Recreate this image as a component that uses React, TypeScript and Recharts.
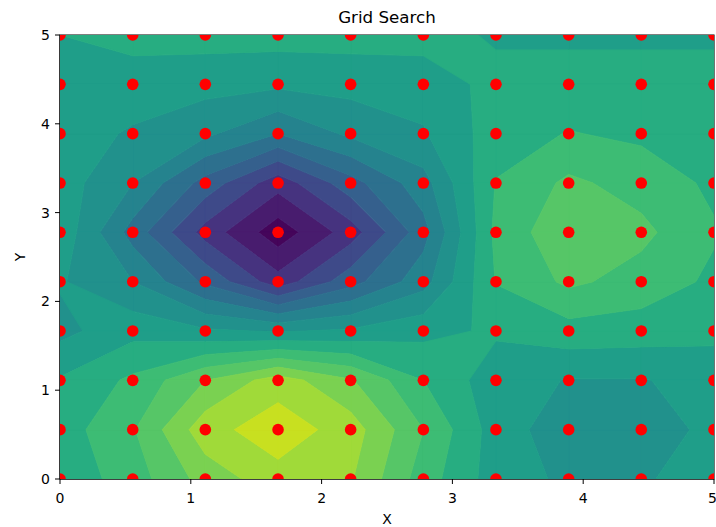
import React from 'react';
import { ScatterChart, Scatter, XAxis, YAxis, ReferenceArea } from 'recharts';

// grid search points (linspace 0..5, 10 steps)
const gridX = [0, 0.556, 1.111, 1.667, 2.222, 2.778, 3.333, 3.889, 4.444, 5];
const gridY = [0, 0.556, 1.111, 1.667, 2.222, 2.778, 3.333, 3.889, 4.444, 5];

// surface value, one row per y (bottom row first),
// expressed in contour-level units
const zRow0 = [9.3, 10.5, 12.4, 13.6, 13.1, 10.5, 8.5, 7.8, 7.9, 8.4];
const zRow1 = [9.5, 10.9, 13.6, 14.6, 13.5, 11.0, 8.5, 7.4, 7.4, 8.3];
const zRow2 = [9.1, 10.2, 12.0, 13.5, 12.1, 10.0, 8.4, 7.95, 7.95, 8.3];
const zRow3 = [7.7, 8.66, 8.15, 7.9, 8.15, 8.7, 9.15, 9.6, 9.5, 9.3];
const zRow4 = [8.1, 7.0, 4.8, 2.4, 4.6, 6.6, 10.05, 11.2, 10.6, 9.8];
const zRow5 = [8.7, 5.6, 2.6, 0.4, 2.5, 5.6, 10.25, 11.8, 11.25, 10.1];
const zRow6 = [8.5, 7.0, 4.6, 2.4, 4.6, 6.6, 10.05, 11.2, 10.6, 9.8];
const zRow7 = [8.4, 7.9, 7.2, 6.0, 7.2, 7.9, 9.5, 10.05, 9.8, 9.5];
const zRow8 = [8.4, 8.45, 8.35, 8.2, 8.35, 8.45, 9.3, 9.3, 9.3, 9.3];
const zRow9 = [9.0, 9.4, 9.4, 9.4, 9.4, 9.4, 8.87, 8.87, 8.87, 8.87];
const zRows = [zRow0, zRow1, zRow2, zRow3, zRow4, zRow5, zRow6, zRow7, zRow8, zRow9];

const levels = [1, 2, 3, 4, 5, 6, 7, 8, 9, 10, 11, 12, 13, 14];
const bandColors = [
  '#45055a', '#481c6e', '#46337f', '#3e4a89', '#35608d', '#2d708e', '#25838e',
  '#21918c', '#1f9e89', '#27ad81', '#3dbc74', '#56c667', '#7ad151', '#a0da39', '#c8e020',
];
const ticks = [0, 1, 2, 3, 4, 5];

type Pt = { x: number; y: number; z: number };

// clip a cell polygon against z >= value (or z <= value), linear along edges
const clipPoly = (poly: Pt[], value: number, above: boolean): Pt[] => {
  const out: Pt[] = [];
  const inside = (p: Pt) => (above ? p.z >= value : p.z <= value);
  for (let k = 0; k < poly.length; k++) {
    const a = poly[k];
    const b = poly[(k + 1) % poly.length];
    const ia = inside(a);
    const ib = inside(b);
    if (ia) out.push(a);
    if (ia !== ib) {
      const t = (value - a.z) / (b.z - a.z);
      out.push({ x: a.x + t * (b.x - a.x), y: a.y + t * (b.y - a.y), z: value });
    }
  }
  return out;
};

const bands = bandColors.map((color, b) => {
  const lo = b === 0 ? -Infinity : levels[b - 1];
  const hi = b === levels.length ? Infinity : levels[b];
  const polys: Pt[][] = [];
  for (let j = 0; j < gridY.length - 1; j++) {
    for (let i = 0; i < gridX.length - 1; i++) {
      let poly: Pt[] = [
        { x: gridX[i], y: gridY[j], z: zRows[j][i] },
        { x: gridX[i + 1], y: gridY[j], z: zRows[j][i + 1] },
        { x: gridX[i + 1], y: gridY[j + 1], z: zRows[j + 1][i + 1] },
        { x: gridX[i], y: gridY[j + 1], z: zRows[j + 1][i] },
      ];
      if (lo > -Infinity) poly = clipPoly(poly, lo, true);
      if (hi < Infinity && poly.length) poly = clipPoly(poly, hi, false);
      if (poly.length >= 3) polys.push(poly);
    }
  }
  return { color, polys, data: polys.flat().map(p => ({ x: p.x, y: p.y })) };
});

const points = gridY.flatMap(y => gridX.map(x => ({ x, y })));

// draws one filled band from the pixel points recharts computed
const bandPath = (polys: Pt[][], color: string) => (props: any) => {
  const pts = props.points as { x: number; y: number }[];
  let k = 0;
  let d = '';
  polys.forEach(poly => {
    const seg = pts.slice(k, k + poly.length);
    k += poly.length;
    d += 'M' + seg.map(p => `${p.x},${p.y}`).join('L') + 'Z';
  });
  return <path d={d} fill={color} stroke={color} strokeWidth={0.9} strokeLinejoin="round" />;
};

const font = 'DejaVu Sans, sans-serif';

const XLabel = (props: any) => {
  const vb = props.viewBox;
  return (
    <text x={vb.x + vb.width / 2} y={vb.y + 45} textAnchor="middle" fontSize={14} fill="#000" fontFamily={font}>
      X
    </text>
  );
};

const YLabel = (props: any) => {
  const vb = props.viewBox;
  const cx = vb.x + 20;
  const cy = vb.y + vb.height / 2;
  return (
    <text x={cx} y={cy} transform={`rotate(-90 ${cx} ${cy})`} textAnchor="middle" dominantBaseline="central"
      fontSize={14} fill="#000" fontFamily={font}>
      Y
    </text>
  );
};

const App: React.FC = () => {
  return (
    <div style={{ position: 'absolute', left: 0, top: 0, width: 716, height: 527, background: '#fff', fontFamily: font }}>
      <div style={{ position: 'absolute', left: 60, width: 654, top: 7, textAlign: 'center', fontSize: 16.7, lineHeight: '20px', color: '#000' }}>
        Grid Search
      </div>
      <ScatterChart width={716} height={527} margin={{ top: 35, right: 2, bottom: 0, left: 0 }}>
        <XAxis
          type="number"
          dataKey="x"
          domain={[0, 5]}
          ticks={ticks}
          allowDataOverflow
          height={48}
          tickSize={5}
          tickMargin={9}
          stroke="#000"
          tick={{ fill: '#000', fontSize: 14, fontFamily: font }}
          label={XLabel}
        />
        <YAxis
          type="number"
          dataKey="y"
          domain={[0, 5]}
          ticks={ticks}
          allowDataOverflow
          width={60}
          tickSize={5}
          tickMargin={5}
          stroke="#000"
          tick={{ fill: '#000', fontSize: 14, fontFamily: font }}
          label={YLabel}
        />
        {bands.map((band, b) => (
          <Scatter
            key={`band-${b}`}
            name={`band-${b}`}
            data={band.data}
            fill={band.color}
            shape={() => <g />}
            line={bandPath(band.polys, band.color)}
            lineType="joint"
            legendType="none"
            isAnimationActive={false}
          />
        ))}
        <Scatter
          name="points"
          data={points}
          fill="#ff0000"
          shape={(p: any) => <circle cx={p.cx} cy={p.cy} r={5.8} fill="#ff0000" />}
          isAnimationActive={false}
        />
        <ReferenceArea x1={0} x2={5} y1={0} y2={5} fill="none" stroke="#000" strokeWidth={1.1} ifOverflow="visible" />
      </ScatterChart>
    </div>
  );
};

export default App;
